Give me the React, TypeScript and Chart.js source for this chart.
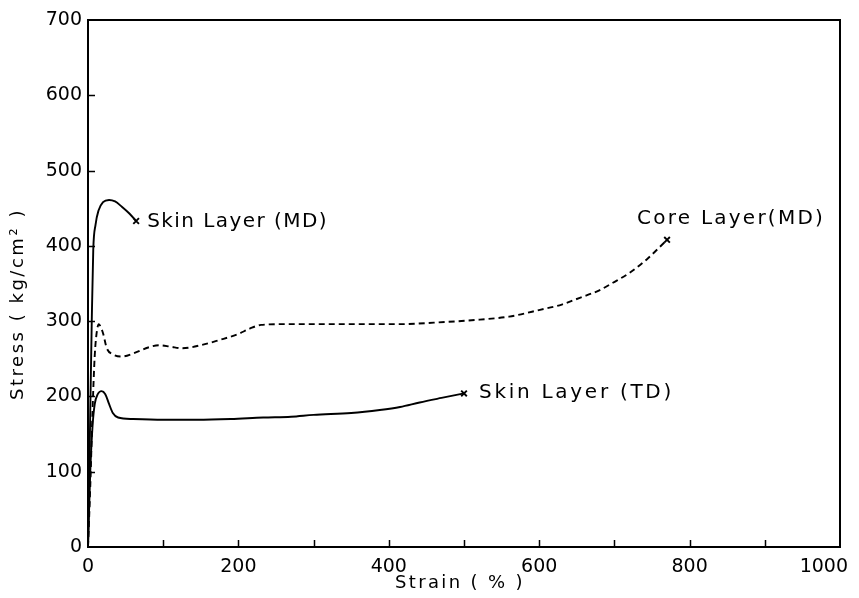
import { useEffect, useRef } from "react";
import { Chart, registerables } from "chart.js";

Chart.register(...registerables);

const FONT = '"DejaVu Sans", "Liberation Sans", sans-serif';

// ---- data ----
const skinMdStrain = [0, 1.5, 3, 5, 7, 10, 14, 20, 28, 36, 45, 55, 64];
const skinMdStress = [0, 80, 180, 300, 395, 428, 447, 458, 461, 459, 452, 443, 433];

const coreMdStrain = [0, 3, 6, 9, 12, 14.5, 17, 20, 25, 33, 45, 60, 80, 95, 110, 125, 150, 175, 200, 215, 230, 260, 300, 350, 415, 460, 521, 560, 601, 630, 654, 680, 698, 720, 743, 770];
const coreMdStress = [0, 80, 180, 255, 288, 296, 292, 284, 264, 256, 253, 257, 265, 268, 266, 264, 268, 275, 283, 290, 295, 296, 296, 296, 296, 298, 302, 306, 315, 322, 331, 341, 351, 364, 382, 408];

const skinTdStrain = [0, 3, 6, 9, 13, 18, 23, 28, 33, 40, 60, 100, 145, 190, 233, 270, 300, 350, 388, 415, 441, 470, 500];
const skinTdStress = [0, 100, 160, 190, 203, 207, 203, 190, 178, 172, 170, 169, 169, 170, 172, 173, 175.5, 178, 182, 186, 192, 198, 204];

const xMin = 0, xMax = 1000, xStep = 100, xLabelStep = 200;
const yMin = 0, yMax = 700, yStep = 100;
const xTickLabels = ["0", "200", "400", "600", "800", "1000"];

const xTitle = "Strain ( % )";
const yTitle = "Stress ( kg/cm\u00B2 )";
const curveNames = ["Skin Layer (MD)", "Core Layer(MD)", "Skin Layer (TD)"];

// label layout (pixel offsets from end marker, target text width)
const labelLayout = [
  { dx: 11, dy: 1, w: 181 },
  { dx: -30, dy: -21, w: 188 },
  { dx: 15, dy: -1, w: 195 },
];

function toXY(xs: number[], ys: number[]) {
  return xs.map((x, i) => ({ x, y: ys[i] }));
}

function drawSpaced(ctx: any, text: string, x: number, y: number, width: number) {
  const hasLS = "letterSpacing" in ctx;
  if (hasLS) {
    ctx.letterSpacing = "0px";
    const w = ctx.measureText(text).width;
    const n = Array.from(text).length;
    const ls = Math.max(0, (width - w) / n);
    ctx.letterSpacing = ls.toFixed(2) + "px";
    ctx.fillText(text, x, y);
    ctx.letterSpacing = "0px";
  } else {
    ctx.fillText(text, x, y);
  }
}

const framePlugin = {
  id: "frameTicks",
  afterDatasetsDraw(chart: any) {
    const { ctx, chartArea } = chart;
    const xs = chart.scales.x;
    const ys = chart.scales.y;
    ctx.save();
    ctx.strokeStyle = "#000";
    ctx.lineWidth = 2;
    ctx.strokeRect(chartArea.left, chartArea.top, chartArea.right - chartArea.left, chartArea.bottom - chartArea.top);
    ctx.lineWidth = 1.5;
    ctx.beginPath();
    for (let v = xMin + xStep; v < xMax; v += xStep) {
      const px = Math.round(xs.getPixelForValue(v)) + 0.5;
      ctx.moveTo(px, chartArea.bottom);
      ctx.lineTo(px, chartArea.bottom - 7);
    }
    for (let v = yMin + yStep; v < yMax; v += yStep) {
      const py = Math.round(ys.getPixelForValue(v)) + 0.5;
      ctx.moveTo(chartArea.left, py);
      ctx.lineTo(chartArea.left + 7, py);
    }
    ctx.stroke();

    ctx.fillStyle = "#000";
    ctx.textBaseline = "middle";
    ctx.textAlign = "left";

    // x tick labels (last one kept inside the canvas)
    ctx.font = `19px ${FONT}`;
    xTickLabels.forEach((t) => {
      const v = Number(t);
      const px = xs.getPixelForValue(v);
      const w = ctx.measureText(t).width;
      const left = Math.min(px - w / 2, chartArea.right + 8 - w);
      ctx.fillText(t, left, chartArea.bottom + 20);
    });

    // curve labels
    ctx.font = `20px ${FONT}`;
    curveNames.forEach((name, i) => {
      const d = chart.data.datasets[i].data;
      const last = d[d.length - 1];
      const px = xs.getPixelForValue(last.x);
      const py = ys.getPixelForValue(last.y);
      const L = labelLayout[i];
      drawSpaced(ctx, name, px + L.dx, py + L.dy, L.w);
    });

    // axis titles
    ctx.font = `18px ${FONT}`;
    const xw = 130;
    const cx = (chartArea.left + chartArea.right) / 2 - 4;
    drawSpaced(ctx, xTitle, cx - xw / 2, 575, xw);

    const yw = 192;
    ctx.translate(10, 296);
    ctx.rotate(-Math.PI / 2);
    drawSpaced(ctx, yTitle, -yw / 2, 0, yw);
    ctx.restore();
  },
};

function endPointRadius(n: number) {
  return (c: any) => (c.dataIndex === n - 1 ? 4 : 0);
}

export default function App() {
  const ref = useRef<HTMLCanvasElement | null>(null);
  useEffect(() => {
    if (!ref.current) return;
    const mk = (xs: number[], ys: number[], dashed: boolean) => ({
      data: toXY(xs, ys),
      borderColor: "#000",
      backgroundColor: "#000",
      borderWidth: 1.9,
      borderDash: dashed ? [6, 4] : [],
      cubicInterpolationMode: "monotone" as const,
      pointStyle: "crossRot" as const,
      pointRadius: endPointRadius(xs.length),
      pointHoverRadius: endPointRadius(xs.length),
      pointBorderColor: "#000",
      pointBorderWidth: 1.9,
      fill: false,
    });
    const chart = new Chart(ref.current, {
      type: "line",
      data: {
        datasets: [
          mk(skinMdStrain, skinMdStress, false),
          mk(coreMdStrain, coreMdStress, true),
          mk(skinTdStrain, skinTdStress, false),
        ],
      },
      options: {
        animation: false,
        responsive: true,
        maintainAspectRatio: false,
        layout: { padding: { top: 12, right: 11, left: 0, bottom: 0 } },
        plugins: { legend: { display: false }, tooltip: { enabled: false } },
        events: [],
        scales: {
          x: {
            type: "linear",
            min: xMin,
            max: xMax,
            afterFit: (s: any) => {
              s.height = 43;
              s.paddingLeft = 0;
              s.paddingRight = 0;
            },
            grid: { display: false, drawTicks: false },
            border: { display: false },
            ticks: {
              display: false,
              stepSize: xStep,
              autoSkip: false,
              maxRotation: 0,
              font: { family: FONT, size: 19 },
              callback: (v: any) => (Number(v) % xLabelStep === 0 ? String(v) : ""),
            },
          },
          y: {
            type: "linear",
            min: yMin,
            max: yMax,
            afterFit: (s: any) => {
              s.width = 80;
              s.paddingTop = 0;
              s.paddingBottom = 0;
            },
            grid: { display: false, drawTicks: false },
            border: { display: false },
            ticks: {
              stepSize: yStep,
              padding: 6,
              color: "#000",
              font: { family: FONT, size: 19 },
            },
          },
        },
      },
      plugins: [framePlugin],
    });
    return () => chart.destroy();
  }, []);
  return (
    <div style={{ width: 843, height: 582, position: "relative" }}>
      <canvas ref={ref} />
    </div>
  );
}
